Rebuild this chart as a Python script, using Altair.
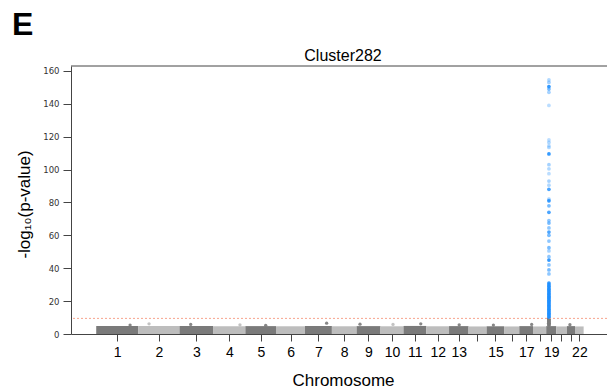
import altair as alt
import pandas as pd

# ---------------- data ----------------
CHROMS = [str(i) for i in range(1, 23)]
CHR_LEN = [249, 243, 198, 191, 181, 171, 159, 146, 141, 136, 135, 134,
           115, 107, 103, 90, 81, 78, 59, 63, 48, 51]          # Mb
SHOWN_LABELS = ["1", "2", "3", "4", "5", "6", "7", "8", "9", "10", "11",
                "12", "13", "15", "17", "19", "22"]
BAND_TOP = [4.8, 4.9, 4.8, 4.7, 4.8, 4.7, 4.9, 4.7, 4.8, 4.7, 4.9, 4.7,
            4.8, 4.6, 4.7, 4.6, 4.8, 4.6, 4.8, 4.6, 4.8, 4.6]  # -log10 p

BUMP_CHR = [1, 2, 3, 4, 7, 9, 10, 11, 13, 17, 21, 5, 15]
BUMP_POS = [200, 63, 66, 159, 128, 20, 74, 102, 60, 73, 18, 120, 40]
BUMP_VAL = [5.4, 6.2, 5.8, 5.6, 6.6, 6.0, 5.8, 6.2, 5.6, 5.8, 5.7, 5.3, 5.4]

HIT_CHR = 19
HIT_POS = 16
HIT_VAL = [154.5, 153.0, 150.5, 149.0, 147.0, 139.0, 118.0, 116.5, 114.5,
           113.5, 109.5, 103.0, 100.5, 97.5, 93.0, 90.5, 88.0, 82.0, 81.0,
           78.0, 74.0, 69.0, 67.5, 64.5, 62.0, 60.0, 56.5, 52.5, 50.5, 47.0,
           45.0, 42.0, 39.0, 36.5, 31.0, 30.0, 29.0, 28.0, 27.2, 26.3, 25.5,
           24.6, 23.8, 23.0, 22.2, 21.4, 20.6, 19.8, 19.0, 18.2, 17.4, 16.6,
           15.8, 15.0, 14.2, 13.4, 12.6, 11.8, 11.0, 10.3]
HIT_ALPHA = [0.35, 0.4, 0.9, 0.6, 0.4, 0.3, 0.3, 0.35, 0.3, 0.35, 0.9, 0.4,
             0.35, 0.3, 0.4, 0.35, 0.8, 0.4, 0.9, 0.6, 0.8, 0.5, 0.6, 0.5,
             0.8, 0.6, 0.5, 0.6, 0.4, 0.5, 0.9, 0.5, 0.6, 0.5, 0.9, 0.9,
             0.9, 0.9, 0.9, 0.9, 0.9, 0.9, 0.9, 0.9, 0.9, 0.9, 0.9, 0.9,
             0.9, 0.9, 0.9, 0.9, 0.9, 0.9, 0.9, 0.9, 0.9, 0.9, 0.9, 0.9]
HIT_GRAY_VAL = [5.5, 6.5, 7.5, 8.5, 9.3]
THRESHOLD = 9.5

# ---------------- derived tables ----------------
starts = []
acc = 0
for L in CHR_LEN:
    starts.append(acc)
    acc += L
centers = [round(s + L / 2) for s, L in zip(starts, CHR_LEN)]
shade = ["dark" if i % 2 == 0 else "light" for i in range(22)]

band = pd.DataFrame({
    "chrom": CHROMS, "x": starts,
    "xe": [s + L for s, L in zip(starts, CHR_LEN)],
    "y": [0] * 22, "ye": BAND_TOP, "shade": shade,
})
bumps = pd.DataFrame({
    "x": [starts[c - 1] + p for c, p in zip(BUMP_CHR, BUMP_POS)],
    "y": BUMP_VAL,
    "shade": [shade[c - 1] for c in BUMP_CHR],
})
hit_x = starts[HIT_CHR - 1] + HIT_POS
gray_col = pd.DataFrame({"x": [hit_x] * len(HIT_GRAY_VAL), "y": HIT_GRAY_VAL,
                         "shade": [shade[HIT_CHR - 1]] * len(HIT_GRAY_VAL)})
hits = pd.DataFrame({"x": [hit_x] * len(HIT_VAL), "y": HIT_VAL, "a": HIT_ALPHA})
thr = pd.DataFrame({"y": [THRESHOLD]})
one = pd.DataFrame({"t": ["E"]})
ttl = pd.DataFrame({"t": ["Cluster282"]})

W, H = 536, 268
lab_list = [c if c in SHOWN_LABELS else "" for c in CHROMS]
label_expr = ("[" + ",".join("'%s'" % l for l in lab_list) + "][indexof(["
              + ",".join(str(c) for c in centers) + "], datum.value)]")

xscale = alt.Scale(domain=[-149, 3017], nice=False, zero=False)
yscale = alt.Scale(domain=[0, 163], nice=False, zero=False)

xaxis = alt.Axis(values=centers, labelExpr=label_expr, title="Chromosome",
                 grid=False, labelOverlap=False, labelFlush=False,
                 labelFont="Liberation Sans", labelFontSize=14, labelColor="#000",
                 labelPadding=4, tickSize=7, tickColor="#444", domainColor="#444",
                 titleFont="Liberation Sans", titleFontSize=17,
                 titleFontWeight="normal", titleColor="#000",
                 titleX=272, titleY=51.5, titleBaseline="alphabetic")
yaxis = alt.Axis(values=list(range(0, 161, 20)), title="-log₁₀(p-value)",
                 grid=False, labelFont="DejaVu Sans", labelFontSize=8.5,
                 labelColor="#333", labelPadding=4, tickSize=8,
                 tickColor="#444", domainColor="#444",
                 titleFont="Liberation Sans", titleFontSize=17,
                 titleFontWeight="normal", titleColor="#000", titleAngle=270,
                 titleX=-42, titleY=138, titleBaseline="alphabetic")

X = alt.X("x:Q", scale=xscale, axis=xaxis)
Y = alt.Y("y:Q", scale=yscale, axis=yaxis)
color = alt.Color("shade:N", scale=alt.Scale(domain=["dark", "light"],
                                             range=["#7a7a7a", "#bdbdbd"]),
                  legend=None)

band_l = alt.Chart(band).mark_rect().encode(x=X, x2="xe:Q", y=Y, y2="ye:Q",
                                            color=color)
bump_l = alt.Chart(bumps).mark_circle(size=11, opacity=0.9).encode(x=X, y=Y, color=color)
gray_l = alt.Chart(gray_col).mark_circle(size=16, opacity=1).encode(x=X, y=Y, color=color)
thr_l = alt.Chart(thr).mark_rule(color="#f7a38c", strokeDash=[2, 2],
                                 strokeWidth=1).encode(y=Y)
hit_l = alt.Chart(hits).mark_circle(size=14, color="#1e8fff").encode(
    x=X, y=Y, opacity=alt.Opacity("a:Q", scale=None))
top_l = alt.Chart(one).mark_rule(color="#444", strokeWidth=1).encode(
    x=alt.value(0), x2=alt.value(W), y=alt.value(0))
e_l = alt.Chart(one).mark_text(fontSize=32, fontWeight="bold", font="Liberation Sans",
                               align="left", baseline="alphabetic",
                               color="#000").encode(
    x=alt.value(-59), y=alt.value(-31), text="t:N")
t_l = alt.Chart(ttl).mark_text(fontSize=16, font="Liberation Sans", align="center",
                               baseline="alphabetic", color="#000").encode(
    x=alt.value(272), y=alt.value(-5.3), text="t:N")

chart = alt.layer(band_l, bump_l, gray_l, thr_l, hit_l, top_l, e_l, t_l).properties(
    width=W, height=H,
    autosize=alt.AutoSizeParams(type="none"),
    padding={"left": 71, "top": 66, "right": 0, "bottom": 55},
    background="white",
).configure_view(stroke=None)

chart.save("out.html", embed_options={"renderer": "svg", "actions": False})
